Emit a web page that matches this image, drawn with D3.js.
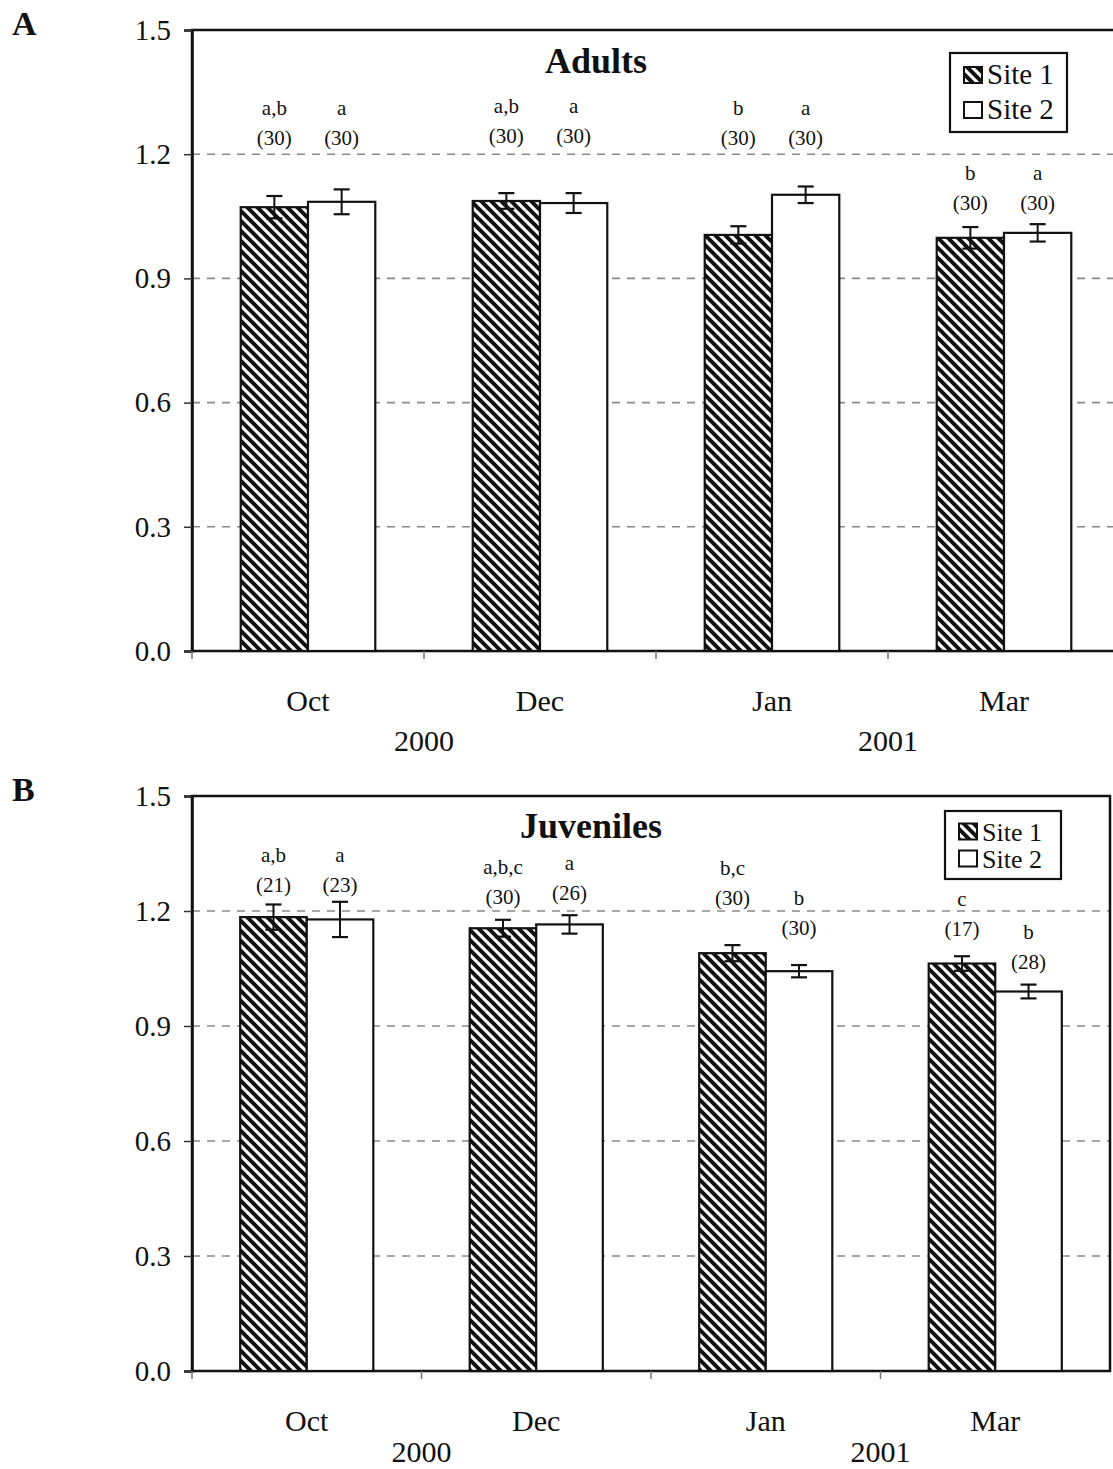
<!DOCTYPE html>
<html>
<head>
<meta charset="utf-8">
<script src="https://cdn.jsdelivr.net/npm/d3@7"></script>
<style>
  body { margin: 0; background: #fff; }
  svg { display: block; }
  text { font-family: "Liberation Serif", "Times New Roman", serif; fill: #111; }
</style>
</head>
<body>
<div id="graph"></div>
<script>
// months on the x axis, years printed under pairs of months
var months = ["Oct", "Dec", "Jan", "Mar"];
var years = ["2000", "2001"];
var seriesNames = ["Site 1", "Site 2"];
var yTicks = [0, 0.3, 0.6, 0.9, 1.2, 1.5];

// panel A: adults
var adultSite1 = [1.072, 1.087, 1.005, 0.998];
var adultSite1Err = [0.027, 0.019, 0.021, 0.026];
var adultSite2 = [1.085, 1.082, 1.102, 1.010];
var adultSite2Err = [0.030, 0.024, 0.020, 0.021];
var adultSite1Letters = ["a,b", "a,b", "b", "b"];
var adultSite2Letters = ["a", "a", "a", "a"];
var adultSite1N = [30, 30, 30, 30];
var adultSite2N = [30, 30, 30, 30];
var adultSite1LabelAt = [1.312, 1.317, 1.312, 1.155];
var adultSite2LabelAt = [1.312, 1.317, 1.312, 1.155];

// panel B: juveniles
var juvSite1 = [1.184, 1.155, 1.090, 1.063];
var juvSite1Err = [0.033, 0.022, 0.021, 0.019];
var juvSite2 = [1.178, 1.165, 1.043, 0.990];
var juvSite2Err = [0.046, 0.024, 0.016, 0.018];
var juvSite1Letters = ["a,b", "a,b,c", "b,c", "c"];
var juvSite2Letters = ["a", "a", "b", "b"];
var juvSite1N = [21, 30, 30, 17];
var juvSite2N = [23, 26, 30, 28];
var juvSite1LabelAt = [1.348, 1.317, 1.314, 1.231];
var juvSite2LabelAt = [1.348, 1.327, 1.236, 1.147];

var width = 1113;
var height = 1469;

var svg = d3.select("#graph").
append("svg").
attr("width", width).
attr("height", height);

var defs = svg.append("defs");
var pattern = defs.append("pattern").
attr("id", "hatch").
attr("patternUnits", "userSpaceOnUse").
attr("width", 10).
attr("height", 10);
pattern.append("rect").attr("width", 10).attr("height", 10).attr("fill", "#fff");
pattern.append("path").
attr("d", "M-5,5 L5,15 M0,0 L10,10 M5,-5 L15,5").
attr("stroke", "#111").
attr("stroke-width", 4);

function makeBars(s1, e1, l1, n1, at1, s2, e2, l2, n2, at2) {
   var bars = [];
   months.forEach(function (m, i) {
      bars.push({month: m, site: seriesNames[0], value: s1[i], err: e1[i], letters: l1[i], n: n1[i], labelAt: at1[i]});
      bars.push({month: m, site: seriesNames[1], value: s2[i], err: e2[i], letters: l2[i], n: n2[i], labelAt: at2[i]});
   });
   return bars;
}

var panels = [
{
   tag: "A", title: "Adults", left: 192, right: 1120, top: 30, bottom: 651,
   titleX: 596, titleY: 73, monthY: 711, yearY: 751,
   legend: {x: 950, y: 53, w: 117, h: 79, row: 35, font: 29},
   bars: makeBars(adultSite1, adultSite1Err, adultSite1Letters, adultSite1N, adultSite1LabelAt,
   adultSite2, adultSite2Err, adultSite2Letters, adultSite2N, adultSite2LabelAt)
},
{
   tag: "B", title: "Juveniles", left: 192, right: 1110, top: 796, bottom: 1371,
   titleX: 591, titleY: 838, monthY: 1431, yearY: 1462,
   legend: {x: 945, y: 811, w: 116, h: 68, row: 27, font: 26},
   bars: makeBars(juvSite1, juvSite1Err, juvSite1Letters, juvSite1N, juvSite1LabelAt,
   juvSite2, juvSite2Err, juvSite2Letters, juvSite2N, juvSite2LabelAt)
}];


panels.forEach(function (p) {
   var g = svg.append("g");

   var xScale = d3.scaleBand().
   domain(months).
   range([p.left, p.right]).
   paddingInner(0.42).
   paddingOuter(0.21);

   var xSub = d3.scaleBand().
   domain(seriesNames).
   range([0, xScale.bandwidth()]);

   var yScale = d3.scaleLinear().
   domain([0, 1.5]).
   range([p.bottom, p.top]);

   // dashed grid
   g.selectAll(".grid").
   data(yTicks.filter(function (t) {return t > 0 && t < 1.5;})).
   enter().
   append("line").
   attr("x1", p.left).
   attr("x2", p.right).
   attr("y1", function (t) {return yScale(t);}).
   attr("y2", function (t) {return yScale(t);}).
   attr("stroke", "#8a8a8a").
   attr("stroke-width", 1.6).
   attr("stroke-dasharray", "8,7");

   // frame
   g.append("rect").
   attr("x", p.left).
   attr("y", p.top).
   attr("width", p.right - p.left).
   attr("height", p.bottom - p.top).
   attr("fill", "none").
   attr("stroke", "#111").
   attr("stroke-width", 2.5);

   // y axis
   var yAxis = d3.axisLeft(yScale).
   tickValues(yTicks).
   tickFormat(d3.format(".1f")).
   tickSize(8).
   tickPadding(13);

   var ya = g.append("g").
   attr("transform", "translate(" + p.left + ",0)").
   call(yAxis);
   ya.select(".domain").attr("stroke", "#111").attr("stroke-width", 2.5);
   ya.selectAll(".tick line").attr("stroke", "#333").attr("stroke-width", 1.5);
   ya.selectAll(".tick text").
   style("font-family", "Liberation Serif").
   style("font-size", "29px").
   attr("fill", "#111");

   // x ticks at band boundaries
   var step = xScale.step();
   var bounds = months.slice(1).map(function (m) {return xScale(m) - step * xScale.paddingInner() / 2;});
   bounds.unshift(p.left);
   g.selectAll(".xtick").
   data(bounds).
   enter().
   append("line").
   attr("x1", function (d) {return d;}).
   attr("x2", function (d) {return d;}).
   attr("y1", p.bottom).
   attr("y2", p.bottom + 8).
   attr("stroke", "#777").
   attr("stroke-width", 1.5);

   // bars
   var bar = g.selectAll(".bar").
   data(p.bars).
   enter().
   append("g");

   bar.append("rect").
   attr("x", function (d) {return xScale(d.month) + xSub(d.site);}).
   attr("y", function (d) {return yScale(d.value);}).
   attr("width", xSub.bandwidth()).
   attr("height", function (d) {return yScale(0) - yScale(d.value);}).
   attr("fill", function (d) {
      if (d.site == seriesNames[0]) return "url(#hatch)";else
      return "#fff";
   }).
   attr("stroke", "#111").
   attr("stroke-width", 2.2);

   // error bars
   function cx(d) {return xScale(d.month) + xSub(d.site) + xSub.bandwidth() / 2;}
   bar.append("line").
   attr("x1", cx).
   attr("x2", cx).
   attr("y1", function (d) {return yScale(d.value + d.err);}).
   attr("y2", function (d) {return yScale(d.value - d.err);}).
   attr("stroke", "#111").
   attr("stroke-width", 2);
   [1, -1].forEach(function (sign) {
      bar.append("line").
      attr("x1", function (d) {return cx(d) - 8;}).
      attr("x2", function (d) {return cx(d) + 8;}).
      attr("y1", function (d) {return yScale(d.value + sign * d.err);}).
      attr("y2", function (d) {return yScale(d.value + sign * d.err);}).
      attr("stroke", "#111").
      attr("stroke-width", 2.2);
   });

   // letter and sample size labels
   bar.append("text").
   attr("x", cx).
   attr("y", function (d) {return yScale(d.labelAt);}).
   attr("dy", "0.35em").
   style("text-anchor", "middle").
   style("font-size", "21px").
   text(function (d) {return d.letters;});

   bar.append("text").
   attr("x", cx).
   attr("y", function (d) {return yScale(d.labelAt) + 30;}).
   attr("dy", "0.35em").
   style("text-anchor", "middle").
   style("font-size", "21px").
   text(function (d) {return "(" + d.n + ")";});

   // month labels
   g.selectAll(".month").
   data(months).
   enter().
   append("text").
   attr("x", function (m) {return xScale(m) + xScale.bandwidth() / 2;}).
   attr("y", p.monthY).
   style("text-anchor", "middle").
   style("font-size", "30px").
   text(function (m) {return m;});

   // years sit between the two months they cover
   years.forEach(function (yr, i) {
      var a = months[i * 2],b = months[i * 2 + 1];
      var xm = (xScale(a) + xScale(b) + xScale.bandwidth()) / 2;
      g.append("text").
      attr("x", xm).
      attr("y", p.yearY).
      style("text-anchor", "middle").
      style("font-size", "30px").
      text(yr);
   });

   // title
   g.append("text").
   attr("x", p.titleX).
   attr("y", p.titleY).
   style("text-anchor", "middle").
   style("font-size", "36px").
   style("font-weight", "bold").
   text(p.title);

   // panel tag
   g.append("text").
   attr("x", 12).
   attr("y", p.top + 5).
   style("font-size", "34px").
   style("font-weight", "bold").
   text(p.tag);

   // legend
   var L = p.legend;
   g.append("rect").
   attr("x", L.x).
   attr("y", L.y).
   attr("width", L.w).
   attr("height", L.h).
   attr("fill", "#fff").
   attr("stroke", "#111").
   attr("stroke-width", 2.2);

   seriesNames.forEach(function (s, i) {
      var base = L.y + L.h / 2 - L.row / 2 + i * L.row + 9;
      g.append("rect").
      attr("x", L.x + 14).
      attr("y", base - 17).
      attr("width", 18).
      attr("height", 16).
      attr("fill", i == 0 ? "url(#hatch)" : "#fff").
      attr("stroke", "#111").
      attr("stroke-width", 2);
      g.append("text").
      attr("x", L.x + 37).
      attr("y", base).
      style("font-size", L.font + "px").
      text(s);
   });
});
</script>
</body>
</html>
